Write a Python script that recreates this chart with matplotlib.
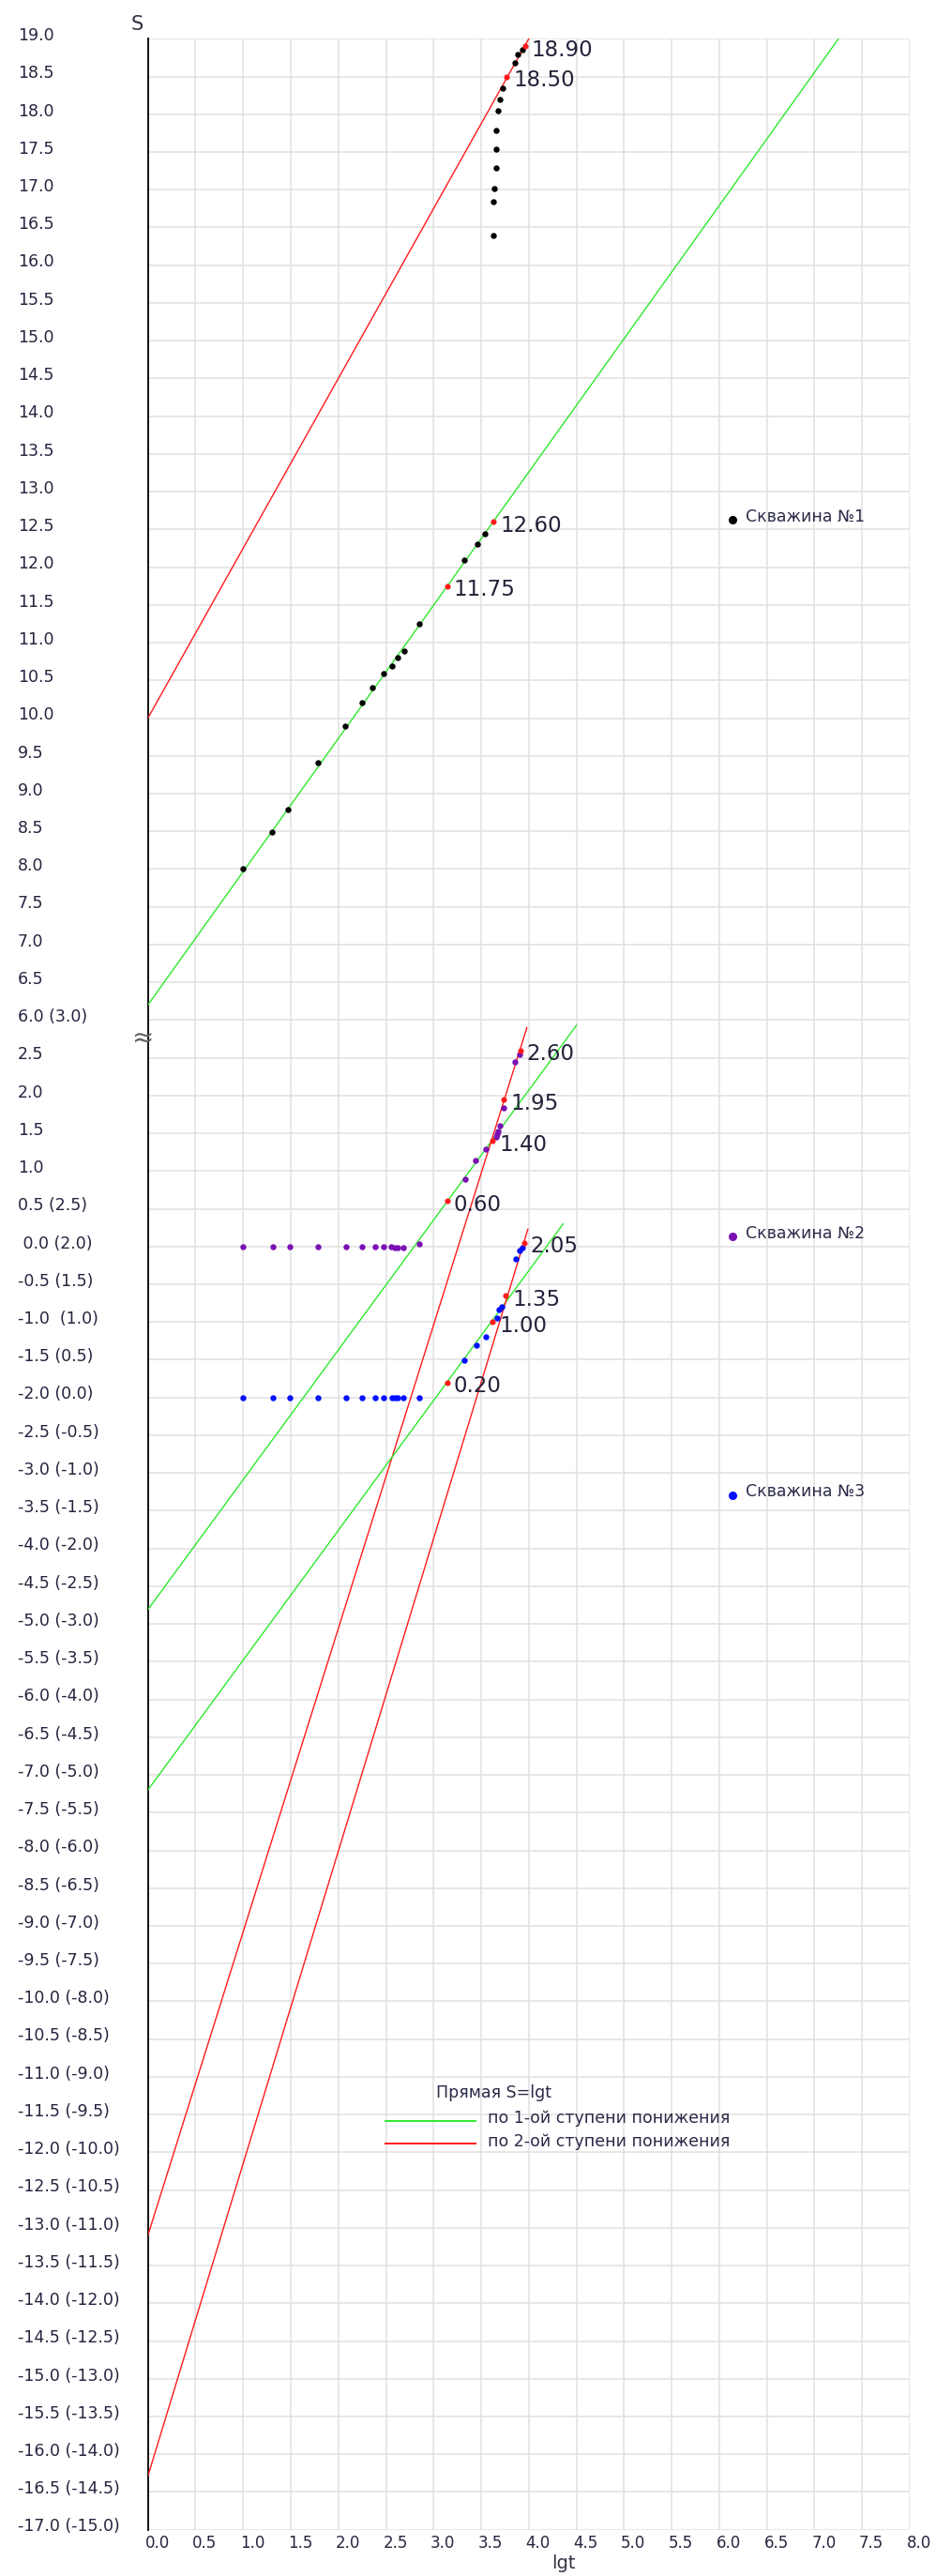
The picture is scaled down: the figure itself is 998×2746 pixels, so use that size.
import matplotlib
matplotlib.use('Agg')
import matplotlib.pyplot as plt
import matplotlib.transforms as mtransforms
import numpy as np

# --- данные скважин: lg t и понижение S ---
# скважина №1 (основная шкала)
lgt1 = [1.00, 1.30, 1.47, 1.79, 2.07, 2.25, 2.36, 2.48, 2.56, 2.62, 2.69, 2.85,
        3.32, 3.46, 3.54, 3.63, 3.63, 3.64, 3.66, 3.66, 3.66, 3.68, 3.70, 3.73,
        3.85, 3.88, 3.93]
s1 = [8.00, 8.49, 8.79, 9.41, 9.89, 10.20, 10.40, 10.59, 10.69, 10.80, 10.89, 11.25,
      12.10, 12.30, 12.44, 16.39, 16.84, 17.01, 17.29, 17.54, 17.78, 18.05, 18.19, 18.35,
      18.68, 18.79, 18.86]

# скважина №2 (нижняя шкала, без скобок)
lgt2 = [1.00, 1.31, 1.49, 1.79, 2.08, 2.25, 2.39, 2.48, 2.55, 2.59, 2.62, 2.68, 2.85,
        3.33, 3.44, 3.55, 3.66, 3.67, 3.68, 3.70, 3.74, 3.85, 3.90]
s2 = [0.0, 0.0, 0.0, 0.0, 0.0, 0.0, 0.0, 0.0, 0.0, -0.01, -0.01, -0.01, 0.04,
      0.89, 1.14, 1.29, 1.45, 1.49, 1.53, 1.60, 1.84, 2.44, 2.55]

# скважина №3 (нижняя шкала, значения в скобках)
lgt3 = [1.00, 1.31, 1.49, 1.79, 2.08, 2.25, 2.39, 2.48, 2.56, 2.59, 2.62, 2.68, 2.85,
        3.32, 3.45, 3.55, 3.67, 3.69, 3.72, 3.86, 3.90, 3.93]
s3 = [0.0, 0.0, 0.0, 0.0, 0.0, 0.0, 0.0, 0.0, 0.0, 0.0, 0.0, 0.0, 0.0,
      0.49, 0.69, 0.80, 1.05, 1.16, 1.20, 1.84, 1.95, 1.99]

# отмеченные точки, по которым проведены прямые
mark_lgt1 = [3.14, 3.63, 3.77, 3.96]
mark_s1 = [11.75, 12.60, 18.50, 18.90]
mark_lgt2 = [3.14, 3.62, 3.74, 3.91]
mark_s2 = [0.60, 1.40, 1.95, 2.60]
mark_lgt3 = [3.14, 3.62, 3.76, 3.95]
mark_s3 = [0.20, 1.00, 1.35, 2.05]

# прямые S = a + b*lgt: (a, b, конец по lgt)
green1 = (6.20, 1.765, 7.25)
red1 = (10.00, 2.25, 4.00)
green2 = (-4.81, 1.72, 4.50)
red2 = (-13.10, 4.02, 3.98)
green3 = (-5.20, 1.72, 4.36)
red3 = (-14.29, 4.14, 3.99)

# сдвиг каждой шкалы относительно оси графика (разрыв оси)
shift1, shift2, shift3 = 0.0, 3.0, 1.0

upper_ticks = np.arange(19.0, 6.4, -0.5)
lower_ticks = np.arange(2.5, -17.01, -0.5)
x_ticks = np.arange(0, 8.01, 0.5)

label_color = '#24243f'
green = '#2ee82e'
red = '#ff1a1a'

fig = plt.figure(figsize=(9.98, 27.46), dpi=100)
ax = fig.add_axes([0.158, 0.01795, 0.8139, 0.96701])
ax.set_xlim(0, 8)
ax.set_ylim(-14, 19)

ax.set_xticks(x_ticks)
ax.set_yticks(np.arange(-14, 19.01, 0.5))
ax.grid(True, color='#e0e0e0', linewidth=1.1)
ax.set_axisbelow(True)
ax.tick_params(left=False, bottom=False, labelleft=False, labelbottom=False)
for side in ['top', 'right', 'bottom']:
    ax.spines[side].set_visible(False)
ax.spines['left'].set_color('black')
ax.spines['left'].set_linewidth(1.3)

# подписи оси S (слева, выровнены по левому краю)
ytrans = mtransforms.blended_transform_factory(fig.transFigure, ax.transData)
ylab = []
for v in upper_ticks:
    ylab.append((v, f"{v:.1f}"))
ylab.append((6.0, "6.0 (3.0)"))
for s in lower_ticks:
    if s >= 1.0:
        txt = f"{s:.1f}"
    elif abs(s) < 1e-9:
        txt = " 0.0 (2.0)"
    elif abs(s + 1.0) < 1e-9:
        txt = "-1.0  (1.0)"
    else:
        txt = f"{s:.1f} ({s + 2:.1f})"
    ylab.append((s + shift2, txt))
for d, txt in ylab:
    ax.text(19 / 998, d + 0.04, txt, transform=ytrans, ha='left', va='center',
            fontsize=12.5, color=label_color)

# подписи оси lgt
xtrans = mtransforms.offset_copy(ax.transData, fig=fig, x=10, y=-14, units='dots')
for x in x_ticks:
    ax.text(x, -14, f"{x:.1f}", transform=xtrans, ha='center', va='center',
            fontsize=12, color=label_color)

fig.text(146 / 998, 1 - 26 / 2746, "S", ha='center', va='center', fontsize=15, color='#333344')
fig.text(601 / 998, 1 - 2733 / 2746, "lgt", ha='center', va='center', fontsize=14, color='#333344')

# знак разрыва оси
ax.text(-0.06, 5.76, "≈", ha='center', va='center', fontsize=20, color='#666666', clip_on=False)


def draw_line(params, shift, color):
    a, b, x_end = params
    xs = np.array([0.0, x_end])
    ax.plot(xs, a + b * xs + shift, color=color, linewidth=1.0, zorder=3)


draw_line(green1, shift1, green)
draw_line(red1, shift1, red)
draw_line(green2, shift2, green)
draw_line(red2, shift2, red)
draw_line(green3, shift3, green)
draw_line(red3, shift3, red)

ax.plot(lgt1, np.array(s1) + shift1, 'o', color='black', markersize=3.6, zorder=4)
ax.plot(lgt2, np.array(s2) + shift2, 'o', color='#7a10b4', markersize=3.6, zorder=4)
ax.plot(lgt3, np.array(s3) + shift3, 'o', color='#0010ff', markersize=3.6, zorder=4)

for xs, ys, shift in [(mark_lgt1, mark_s1, shift1), (mark_lgt2, mark_s2, shift2),
                      (mark_lgt3, mark_s3, shift3)]:
    for x, s in zip(xs, ys):
        ax.plot(x, s + shift, 'o', color=red, markersize=3.4, zorder=5)
        ax.annotate(f"{s:.2f}", (x, s + shift), xytext=(5, -3), textcoords='offset points',
                    ha='left', va='center', fontsize=16.5, color='#22223a', zorder=6)

# подписи скважин
wells = [("Скважина №1", 'black', 12.63), ("Скважина №2", '#7a10b4', 3.13),
         ("Скважина №3", '#0010ff', -0.29)]
for name, col, d in wells:
    ax.plot(6.14, d, 'o', color=col, markersize=5.5, zorder=5)
    ax.text(6.28, d + 0.04, name, ha='left', va='center', fontsize=12.5, color='#2a2a48')

# условные обозначения прямых
ax.text(3.03, -8.21, "Прямая S=lgt", ha='left', va='center', fontsize=12.5, color='#2a2a48')
ax.plot([2.49, 3.44], [-8.58, -8.58], color=green, linewidth=1.4)
ax.text(3.57, -8.55, "по 1-ой ступени понижения", ha='left', va='center', fontsize=12.5,
        color='#2a2a48')
ax.plot([2.49, 3.44], [-8.88, -8.88], color=red, linewidth=1.4)
ax.text(3.57, -8.86, "по 2-ой ступени понижения", ha='left', va='center', fontsize=12.5,
        color='#2a2a48')

fig.savefig('out.png', dpi=100, facecolor='white')
